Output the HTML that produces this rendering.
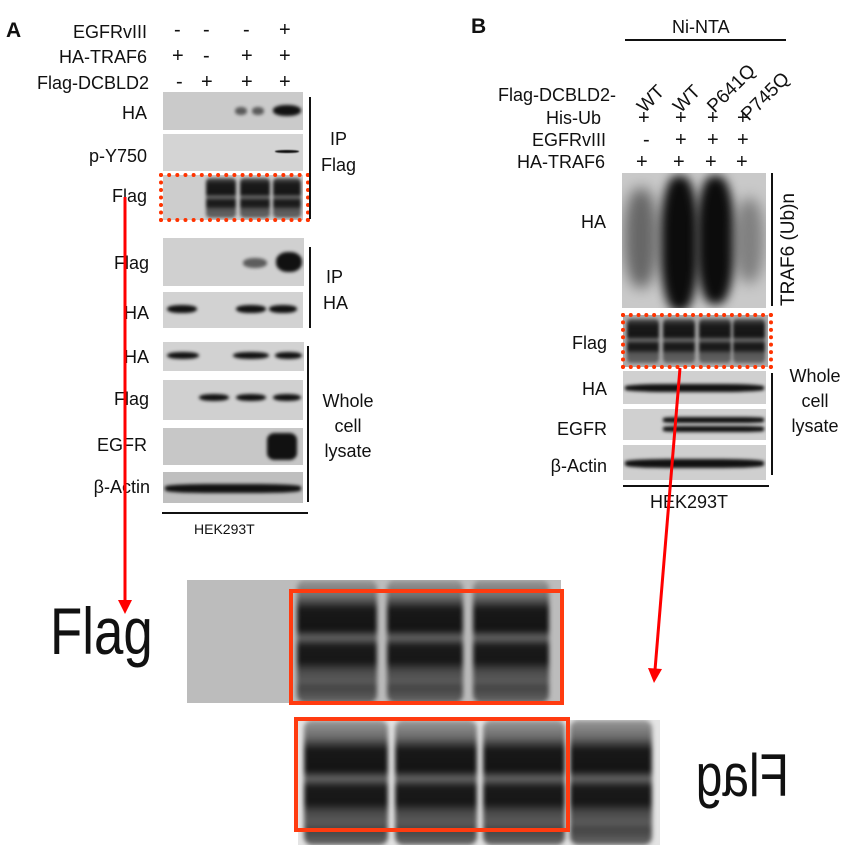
<!DOCTYPE html>
<html><head><meta charset="utf-8"><style>
*{margin:0;padding:0;box-sizing:border-box}
body{width:858px;height:854px;background:#fff;position:relative;overflow:hidden;font-family:"Liberation Sans",Arial,sans-serif;color:#111}
.a{position:absolute}
.t{position:absolute;font-size:18px;line-height:1;white-space:nowrap}
.r{text-align:right}
.g{position:absolute;background:#cfcfcf;overflow:hidden}
.b{position:absolute;background:#111;border-radius:45%;filter:blur(1.5px)}
.ln{position:absolute;filter:blur(2.5px);border-radius:8px;background:linear-gradient(#9a9a9a 0%,#6a6a6a 14%,#181818 24%,#141414 40%,#666 47%,#1a1a1a 54%,#161616 66%,#4a4a4a 74%,#5a5a5a 82%,#444 88%,#666 100%)}
.ln2{position:absolute;filter:blur(1.5px);border-radius:4px;background:linear-gradient(#555 0%,#1a1a1a 15%,#151515 40%,#777 48%,#1a1a1a 56%,#1a1a1a 70%,#555 78%,#666 100%)}
.v{position:absolute;background:#111;width:2px}
.h{position:absolute;background:#111;height:2px}
.dot{position:absolute;border:4px dotted #ff3300}
.box{position:absolute;border:4px solid #ff3b10}
</style></head><body>

<!-- Panel A -->
<div class="t" style="left:6px;top:20px;font-weight:bold;font-size:21px">A</div>
<div class="t r" style="left:0;width:147px;top:23px">EGFRvIII</div>
<div class="t r" style="left:0;width:147px;top:48px">HA-TRAF6</div>
<div class="t r" style="left:0;width:149px;top:74px">Flag-DCBLD2</div>
<div class="t" style="left:174px;top:20px;font-size:20px">-</div><div class="t" style="left:203px;top:20px;font-size:20px">-</div><div class="t" style="left:243px;top:20px;font-size:20px">-</div><div class="t" style="left:279px;top:20px;font-size:20px">+</div>
<div class="t" style="left:172px;top:46px;font-size:20px">+</div><div class="t" style="left:203px;top:46px;font-size:20px">-</div><div class="t" style="left:241px;top:46px;font-size:20px">+</div><div class="t" style="left:279px;top:46px;font-size:20px">+</div>
<div class="t" style="left:176px;top:72px;font-size:20px">-</div><div class="t" style="left:201px;top:72px;font-size:20px">+</div><div class="t" style="left:241px;top:72px;font-size:20px">+</div><div class="t" style="left:279px;top:72px;font-size:20px">+</div>

<div class="t r" style="left:0;width:147px;top:104px">HA</div>
<div class="t r" style="left:0;width:147px;top:147px">p-Y750</div>
<div class="t r" style="left:0;width:147px;top:187px">Flag</div>
<div class="t r" style="left:0;width:149px;top:254px">Flag</div>
<div class="t r" style="left:0;width:149px;top:304px">HA</div>
<div class="t r" style="left:0;width:149px;top:348px">HA</div>
<div class="t r" style="left:0;width:149px;top:390px">Flag</div>
<div class="t r" style="left:0;width:147px;top:436px">EGFR</div>
<div class="t r" style="left:0;width:150px;top:478px">β-Actin</div>

<div class="g" style="left:163px;top:92px;width:140px;height:38px;background:#cacaca">
 <div class="b" style="left:72px;top:15px;width:12px;height:8px;opacity:.6"></div>
 <div class="b" style="left:89px;top:15px;width:12px;height:8px;opacity:.6"></div>
 <div class="b" style="left:110px;top:13px;width:28px;height:11px"></div></div>
<div class="g" style="left:163px;top:134px;width:140px;height:37px;background:#d4d4d4">
 <div class="b" style="left:112px;top:16px;width:24px;height:3px;filter:blur(.5px)"></div></div>
<div class="g" style="left:163px;top:175px;width:140px;height:45px;background:#cdcdcd">
 <div class="ln2" style="left:43px;top:3px;width:30px;height:40px"></div>
 <div class="ln2" style="left:77px;top:3px;width:30px;height:40px"></div>
 <div class="ln2" style="left:110px;top:3px;width:28px;height:40px"></div></div>
<div class="dot" style="left:159px;top:173px;width:151px;height:49px"></div>

<div class="g" style="left:163px;top:238px;width:141px;height:48px;background:#d0d0d0">
 <div class="b" style="left:80px;top:20px;width:24px;height:10px;opacity:.6"></div>
 <div class="b" style="left:113px;top:14px;width:26px;height:20px"></div></div>
<div class="g" style="left:163px;top:292px;width:140px;height:36px;background:#d2d2d2">
 <div class="b" style="left:4px;top:13px;width:30px;height:8px"></div>
 <div class="b" style="left:73px;top:13px;width:30px;height:8px"></div>
 <div class="b" style="left:106px;top:13px;width:28px;height:8px"></div></div>
<div class="g" style="left:163px;top:342px;width:141px;height:29px;background:#d2d2d2">
 <div class="b" style="left:4px;top:10px;width:32px;height:7px"></div>
 <div class="b" style="left:70px;top:10px;width:36px;height:7px"></div>
 <div class="b" style="left:112px;top:10px;width:27px;height:7px"></div></div>
<div class="g" style="left:163px;top:380px;width:140px;height:40px;background:#d0d0d0">
 <div class="b" style="left:36px;top:14px;width:30px;height:7px"></div>
 <div class="b" style="left:73px;top:14px;width:30px;height:7px"></div>
 <div class="b" style="left:110px;top:14px;width:28px;height:7px"></div></div>
<div class="g" style="left:163px;top:428px;width:140px;height:37px;background:#c7c7c7">
 <div class="b" style="left:104px;top:5px;width:30px;height:27px;border-radius:25%"></div></div>
<div class="g" style="left:163px;top:472px;width:140px;height:31px;background:#bfbfbf">
 <div class="b" style="left:2px;top:12px;width:136px;height:9px;border-radius:30%"></div></div>

<div class="v" style="left:309px;top:97px;height:122px"></div>
<div class="v" style="left:309px;top:247px;height:81px"></div>
<div class="v" style="left:307px;top:346px;height:156px"></div>
<div class="t" style="left:330px;top:130px">IP</div>
<div class="t" style="left:321px;top:156px">Flag</div>
<div class="t" style="left:326px;top:268px">IP</div>
<div class="t" style="left:323px;top:294px">HA</div>
<div class="t" style="left:316px;top:389px;width:64px;text-align:center;line-height:25px">Whole<br>cell<br>lysate</div>
<div class="h" style="left:162px;top:512px;width:146px"></div>
<div class="t" style="left:194px;top:522px;font-size:14px">HEK293T</div>

<!-- Panel B -->
<div class="t" style="left:471px;top:16px;font-weight:bold;font-size:21px">B</div>
<div class="t" style="left:672px;top:18px">Ni-NTA</div>
<div class="h" style="left:625px;top:39px;width:161px"></div>
<div class="t" style="left:634px;top:103px;transform:rotate(-45deg);transform-origin:0 0;font-size:19px">WT</div>
<div class="t" style="left:670px;top:103px;transform:rotate(-45deg);transform-origin:0 0;font-size:19px">WT</div>
<div class="t" style="left:704px;top:103px;transform:rotate(-45deg);transform-origin:0 0;font-size:19px">P641Q</div>
<div class="t" style="left:738px;top:111px;transform:rotate(-45deg);transform-origin:0 0;font-size:19px">P745Q</div>
<div class="t r" style="left:430px;width:186px;top:86px">Flag-DCBLD2-</div>
<div class="t r" style="left:430px;width:171px;top:109px">His-Ub</div>
<div class="t r" style="left:430px;width:176px;top:131px">EGFRvIII</div>
<div class="t r" style="left:430px;width:175px;top:153px">HA-TRAF6</div>
<div class="t" style="left:638px;top:108px;font-size:20px">+</div><div class="t" style="left:675px;top:108px;font-size:20px">+</div><div class="t" style="left:707px;top:108px;font-size:20px">+</div><div class="t" style="left:737px;top:108px;font-size:20px">+</div>
<div class="t" style="left:643px;top:130px;font-size:20px">-</div><div class="t" style="left:675px;top:130px;font-size:20px">+</div><div class="t" style="left:707px;top:130px;font-size:20px">+</div><div class="t" style="left:737px;top:130px;font-size:20px">+</div>
<div class="t" style="left:636px;top:152px;font-size:20px">+</div><div class="t" style="left:673px;top:152px;font-size:20px">+</div><div class="t" style="left:705px;top:152px;font-size:20px">+</div><div class="t" style="left:736px;top:152px;font-size:20px">+</div>

<div class="t r" style="left:430px;width:176px;top:213px">HA</div>
<div class="t r" style="left:430px;width:177px;top:334px">Flag</div>
<div class="t r" style="left:430px;width:177px;top:380px">HA</div>
<div class="t r" style="left:430px;width:177px;top:420px">EGFR</div>
<div class="t r" style="left:430px;width:177px;top:457px">β-Actin</div>

<div class="g" style="left:622px;top:173px;width:144px;height:135px;background:#c9c9c9">
 <div class="b" style="left:2px;top:15px;width:34px;height:100px;background:#333;opacity:.65;filter:blur(7px)"></div>
 <div class="b" style="left:39px;top:3px;width:37px;height:135px;background:#0c0c0c;filter:blur(5px);border-radius:40%"></div>
 <div class="b" style="left:75px;top:3px;width:37px;height:128px;background:#0c0c0c;filter:blur(5px);border-radius:40%"></div>
 <div class="b" style="left:112px;top:25px;width:30px;height:85px;background:#444;opacity:.55;filter:blur(7px)"></div></div>
<div class="g" style="left:623px;top:315px;width:145px;height:52px;background:#aaa">
 <div class="ln2" style="left:4px;top:4px;width:32px;height:44px"></div>
 <div class="ln2" style="left:40px;top:4px;width:32px;height:44px"></div>
 <div class="ln2" style="left:76px;top:4px;width:32px;height:44px"></div>
 <div class="ln2" style="left:110px;top:4px;width:32px;height:44px"></div></div>
<div class="dot" style="left:621px;top:313px;width:152px;height:56px"></div>
<div class="g" style="left:623px;top:371px;width:143px;height:33px;background:#d0d0d0">
 <div class="b" style="left:2px;top:13px;width:139px;height:8px;border-radius:30%"></div></div>
<div class="g" style="left:623px;top:409px;width:143px;height:31px;background:#d0d0d0">
 <div class="b" style="left:40px;top:8px;width:101px;height:6px;border-radius:20%"></div>
 <div class="b" style="left:40px;top:17px;width:101px;height:6px;border-radius:20%"></div></div>
<div class="g" style="left:623px;top:445px;width:143px;height:35px;background:#cfcfcf">
 <div class="b" style="left:2px;top:14px;width:139px;height:9px;border-radius:30%"></div></div>
<div class="v" style="left:771px;top:173px;height:133px"></div>
<div class="v" style="left:771px;top:373px;height:102px"></div>
<div class="t" style="left:779px;top:306px;transform:rotate(-90deg);transform-origin:0 0;font-size:19px">TRAF6 (Ub)n</div>
<div class="t" style="left:783px;top:364px;width:64px;text-align:center;line-height:25px">Whole<br>cell<br>lysate</div>
<div class="h" style="left:623px;top:485px;width:146px"></div>
<div class="t" style="left:650px;top:493px">HEK293T</div>

<!-- Bottom zoomed blots -->
<div class="g" style="left:187px;top:580px;width:374px;height:123px;background:#bcbcbc">
 <div class="ln" style="left:110px;top:0;width:80px;height:123px"></div>
 <div class="ln" style="left:200px;top:0;width:76px;height:123px"></div>
 <div class="ln" style="left:286px;top:0;width:76px;height:123px"></div>
</div>
<div class="box" style="left:289px;top:589px;width:275px;height:116px"></div>
<div class="g" style="left:298px;top:720px;width:362px;height:125px;background:#e4e4e4">
 <div class="ln" style="left:6px;top:0;width:84px;height:125px"></div>
 <div class="ln" style="left:97px;top:0;width:82px;height:125px"></div>
 <div class="ln" style="left:185px;top:0;width:82px;height:125px"></div>
 <div class="ln" style="left:272px;top:0;width:82px;height:125px"></div>
</div>
<div class="box" style="left:294px;top:717px;width:276px;height:115px"></div>
<div class="t" style="left:50px;top:598px;font-size:66px;transform:scaleX(.8);transform-origin:0 0">Flag</div>
<div class="t" style="left:690px;top:746px;font-size:60px;transform:scale(-.8,1);transform-origin:55px 0;width:110px">Flag</div>

<!-- red arrows -->
<svg class="a" style="left:0;top:0" width="858" height="854">
 <line x1="125" y1="197" x2="125" y2="602" stroke="#ff0000" stroke-width="3"/>
 <polygon points="118,600 132,600 125,614" fill="#ff0000"/>
 <line x1="680" y1="368" x2="655" y2="670" stroke="#ff0000" stroke-width="3"/>
 <polygon points="648,668 662,669 654,683" fill="#ff0000"/>
</svg>
</body></html>
